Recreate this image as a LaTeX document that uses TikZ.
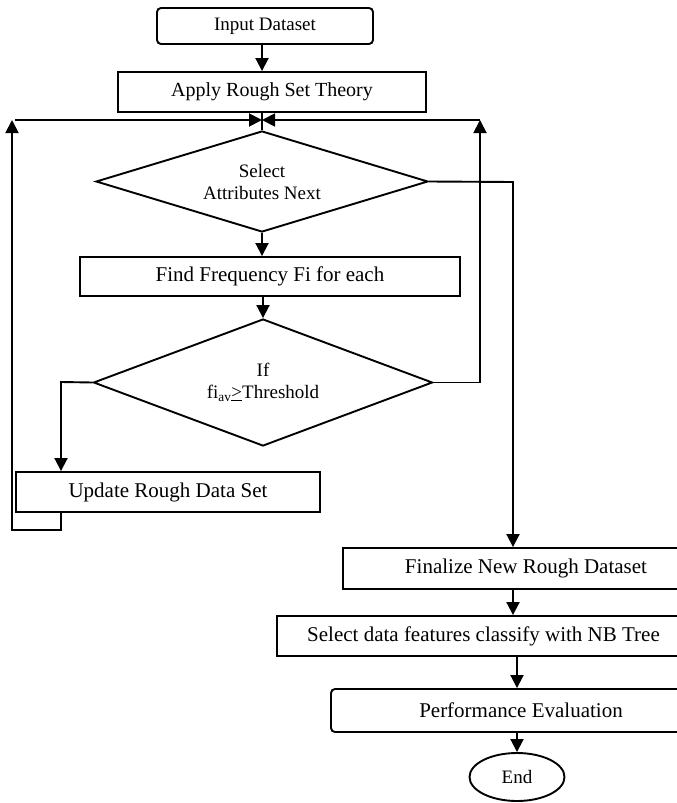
\documentclass[tikz,border=0pt]{standalone}
\usepackage{fontspec}
\setmainfont{Liberation Serif}
\usetikzlibrary{shapes.geometric,arrows.meta}

\begin{document}
\begin{tikzpicture}[x=1pt,y=-1pt,line width=1.9pt,
        box/.style={draw,rectangle,inner sep=0pt,font=\fontsize{21}{24}\selectfont},
        rbox/.style={box,rounded corners=4pt},
        decision/.style={draw,diamond,aspect=3,inner sep=0pt,align=center,font=\fontsize{19}{22}\selectfont},
        terminal/.style={draw,ellipse,inner sep=0pt,font=\fontsize{19}{22}\selectfont},
        flow/.style={-{Triangle[width=13pt,length=13pt]}}]
        % Background
        \useasboundingbox (0,0) rectangle (677,803);
        \clip (0,0) rectangle (677,803);

        % Steps
        \node[rbox,minimum width=216,minimum height=36,font=\fontsize{19}{22}\selectfont] (input) at (265,26) {Input Dataset};
        \node[box,minimum width=308,minimum height=40,font=\fontsize{20}{22}\selectfont] (apply) at (272,92) {Apply Rough Set Theory};
        \node[decision,minimum width=332,minimum height=101] (sel) at (262,181.5) {Select\\Attributes Next};
        \node[box,minimum width=380,minimum height=39] (freq) at (270,276.5) {Find Frequency Fi for each};
        \node[decision,minimum width=339,minimum height=127] (thr) at (263,382.5) {If\\fi\textsubscript{av}\underline{>}Threshold};
        \node[box,minimum width=304,minimum height=40] (upd) at (168,492) {Update Rough Data Set};
        \node[box,minimum width=366,minimum height=41] (fin) at (526,568.5) {Finalize New Rough Dataset};
        \node[box,minimum width=413,minimum height=40] (nb) at (483.5,636) {Select data features classify with NB Tree};
        \node[rbox,minimum width=380,minimum height=43] (perf) at (521,710.5) {Performance Evaluation};
        \node[terminal,minimum width=95,minimum height=48] (end) at (517,777) {End};

        % Turning points
        \coordinate (lft) at (12,120);
        \coordinate (topl) at (15,120);
        \coordinate (rgt) at (480,120);
        \coordinate (out) at (513,182);
        \coordinate (dn) at (61,382);

        % Main flow
        \draw[flow] (input.south -| sel.north) -- (apply.north -| sel.north);
        \draw (apply.south -| sel.north) -- (sel.north);
        \draw[flow] (sel.south) -- (freq.north -| sel.south);
        \draw[flow] (freq.south -| thr.north) -- (thr.north);
        \draw[flow] (thr.west) -- (dn) -- (dn |- upd.north);
        \draw[flow] (sel.east) -- (out) -- (out |- fin.north);
        \draw[flow] (fin.south -| out) -- (nb.north -| out);
        \draw[flow] (nb.south -| end.north) -- (perf.north -| end.north);
        \draw[flow] (perf.south -| end.north) -- (end.north);

        % Loops back
        \draw[flow] (upd.south -| dn) -- ++(0,17) -| (lft);
        \draw[flow] (thr.east) -- (thr.east -| rgt) -- (rgt);
        \draw[flow] (topl) -- (sel.north |- topl);
        \draw[flow] (rgt) -- (sel.north |- rgt);

    \end{tikzpicture}
\end{document}
